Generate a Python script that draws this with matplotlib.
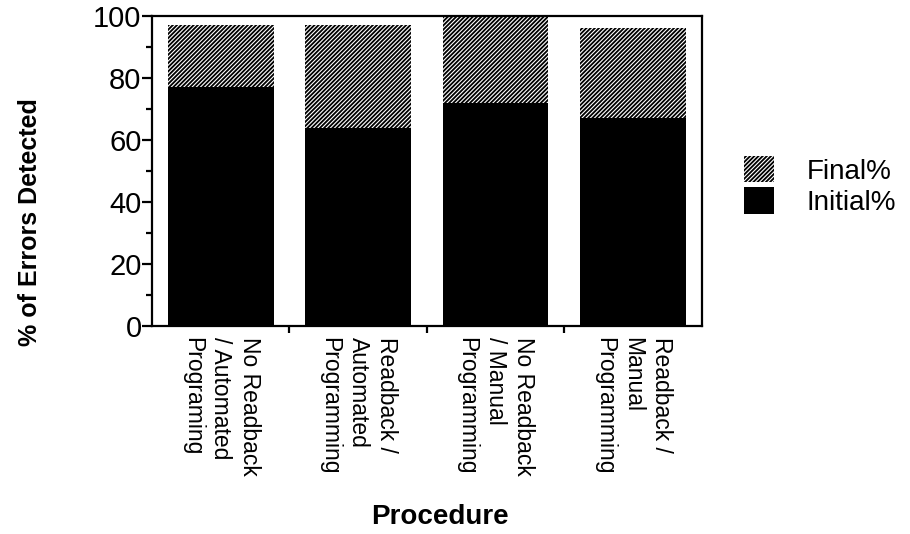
import matplotlib.pyplot as plt
from matplotlib.patches import Patch

categories = [
    "No Readback\n/ Automated\nPrograming",
    "Readback /\nAutomated\nProgramming",
    "No Readback\n/ Manual\nProgramming",
    "Readback /\nManual\nProgramming",
]
initial_pct = [77, 64, 72, 67]
final_pct = [97, 97, 100, 96]

plt.rcParams["font.family"] = ["Liberation Sans", "DejaVu Sans"]
plt.rcParams["hatch.linewidth"] = 0.8

fig = plt.figure(figsize=(9.1, 5.34), dpi=100)
ax = fig.add_axes([0.167, 0.3895, 0.604, 0.5805])

x = list(range(len(categories)))
width = 0.77
ax.bar(x, initial_pct, width=width, color="black", linewidth=0)
ax.bar(
    x,
    [f - i for f, i in zip(final_pct, initial_pct)],
    bottom=initial_pct,
    width=width,
    facecolor="black",
    edgecolor="white",
    hatch="////////",
    linewidth=0,
)

ax.set_xlim(-0.5, 3.5)
ax.set_ylim(0, 100)

for side in ["left", "right", "top", "bottom"]:
    ax.spines[side].set_linewidth(1.6)

ax.set_yticks([0, 20, 40, 60, 80, 100])
ax.set_yticks([10, 30, 50, 70, 90], minor=True)
ax.tick_params(axis="y", which="major", direction="out", length=7.5, width=1.6,
               pad=0, labelsize=21)
ax.tick_params(axis="y", which="minor", direction="out", length=4, width=1.6)

ax.set_xticks(x)
ax.set_xticklabels(categories, rotation=270, ha="center", va="top",
                   multialignment="left", fontsize=16.5, linespacing=1.3)
ax.set_xticks([0.5, 1.5, 2.5], minor=True)
ax.tick_params(axis="x", which="major", length=0, pad=8)
ax.tick_params(axis="x", which="minor", direction="out", length=5, width=1.6)

fig.text(0.033, 0.584, "% of Errors Detected", rotation=90, ha="center",
         va="center", fontsize=18, fontweight="bold")
fig.text(0.4835, 0.032, "Procedure", ha="center", va="center",
         fontsize=20, fontweight="bold")

handles = [
    Patch(facecolor="black", edgecolor="white", hatch="////////", linewidth=0),
    Patch(facecolor="black", linewidth=0),
]
fig.legend(handles, ["Final%", "Initial%"], loc="upper left",
           bbox_to_anchor=(0.818, 0.708), frameon=False, fontsize=20,
           handlelength=1.08, handleheight=1.08, handletextpad=1.15,
           labelspacing=0.1, borderpad=0, borderaxespad=0)

fig.savefig("out.png", dpi=100)
